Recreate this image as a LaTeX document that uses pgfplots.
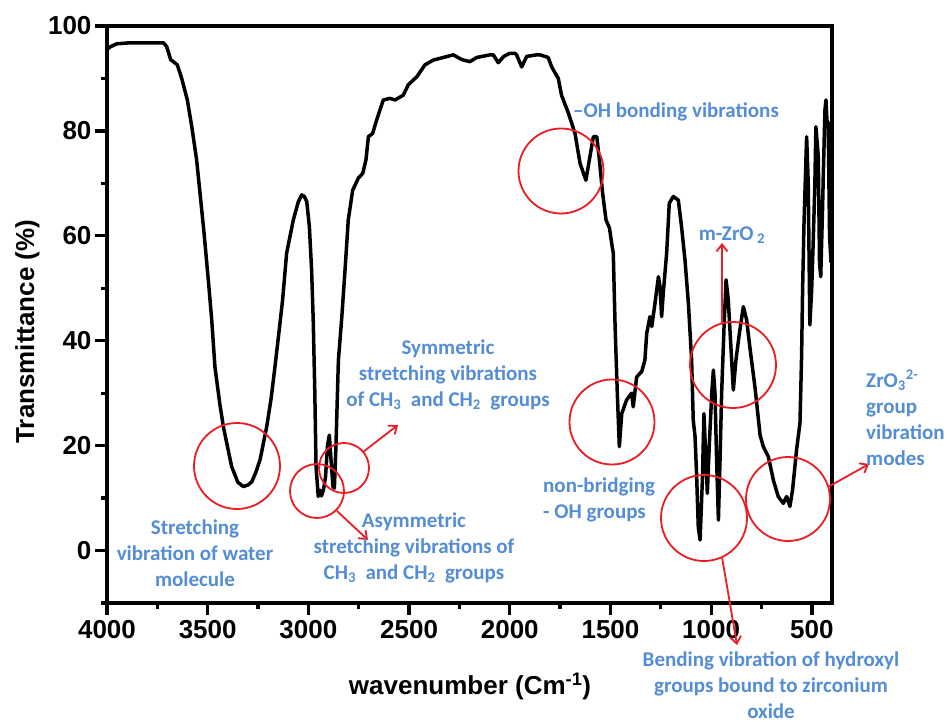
\documentclass[border=0pt]{standalone}
\usepackage{pgfplots}
\pgfplotsset{compat=1.18}
\usepackage{fontspec}
\setmainfont{Liberation Sans}
\newfontfamily\calibri{Carlito}
\usetikzlibrary{arrows.meta}
\definecolor{annblue}{RGB}{84,141,212}
\definecolor{annred}{RGB}{235,28,36}

\begin{document}
\begin{tikzpicture}
\useasboundingbox (0,0) rectangle (947pt,724pt);
\begin{axis}[
  at={(107pt,121pt)}, anchor=south west,
  scale only axis, width=725pt, height=577pt,
  xmin=400, xmax=4000, x dir=reverse,
  ymin=-10, ymax=100,
  xtick={500,1000,...,4000},
  minor xtick={750,1250,...,3750},
  ytick={0,20,...,100},
  minor ytick={-10,10,...,90},
  tick pos=left, tick align=outside,
  major tick length=12pt, minor tick length=6pt,
  every tick/.append style={black, line width=3.3pt},
  axis line style={line width=3.3pt},
  scaled ticks=false,
  /pgf/number format/1000 sep={},
  /pgf/number format/assume math mode=true,
  ticklabel style={font=\fontsize{26}{28}\selectfont\bfseries},
  xticklabel style={yshift=-2pt},
  xlabel={wavenumber (Cm\textsuperscript{-1})},
  ylabel={Transmittance (\%)},
  label style={font=\fontsize{26}{28}\selectfont\bfseries},
  xlabel style={at={(axis description cs:0.5007,-0.1594)}, anchor=base},
  ylabel style={at={(axis description cs:-0.1097,0.4705)}, anchor=center},
]
\addplot[black, line width=3.5pt, line join=round] coordinates {
(4000,95.5) (3985,96.0) (3952,96.6) (3886,96.8) (3720,96.8) (3704,96.1)
(3684,93.6) (3651,92.6) (3629,90.0) (3601,85.9) (3579,80.8) (3555,74.5)
(3538,68.1) (3518,60.5) (3497,51.6) (3480,44.0) (3464,35.0) (3440,28.0)
(3422,23.6) (3400,19.5) (3381,16.0) (3350,13.0) (3323,12.2) (3300,12.5)
(3281,13.1) (3260,15.0) (3240,17.3) (3207,23.6) (3185,29.0) (3166,35.0)
(3145,42.0) (3128,47.8) (3108,56.7) (3075,63.0) (3050,66.5) (3033,67.8)
(3020,67.5) (3008,66.5) (2995,61.7) (2984,53.5) (2976,44.0) (2968,30.0)
(2962,16.0) (2951,10.3) (2942,11.5) (2935,10.4) (2925,11.6) (2915,14.0)
(2905,20.0) (2896,22.0) (2887,17.0) (2878,12.2) (2871,11.9) (2863,20.0)
(2851,36.3) (2835,44.0) (2818,53.5) (2802,63.0) (2780,68.7) (2752,71.0)
(2730,71.9) (2714,74.5) (2702,78.9) (2681,79.5) (2661,82.1) (2628,85.9)
(2595,86.2) (2570,85.9) (2529,86.8) (2504,88.8) (2462,90.3) (2421,92.6)
(2380,93.5) (2330,94.0) (2280,94.5) (2239,93.6) (2198,93.2) (2164,94.0)
(2098,94.5) (2082,94.5) (2057,93.0) (2030,94.2) (2000,94.8) (1974,94.8)
(1966,94.5) (1941,92.2) (1916,94.2) (1867,94.5) (1850,94.5) (1809,94.0)
(1792,92.2) (1759,90.0) (1743,86.8) (1709,83.4) (1676,79.5) (1651,73.8)
(1622,70.6) (1602,75.1) (1585,78.9) (1568,78.9) (1555,74.5) (1539,68.1)
(1522,63.0) (1505,61.5) (1494,58.6) (1486,56.7) (1477,42.7) (1466,30.0)
(1456,19.8) (1444,26.1) (1420,28.7) (1395,30.0) (1387,27.4) (1370,33.1)
(1345,34.1) (1329,36.3) (1320,41.4) (1304,44.6) (1295,42.7) (1279,47.1)
(1262,52.2) (1254,50.3) (1246,44.6) (1238,49.0) (1221,56.7) (1208,66.2)
(1188,67.5) (1163,66.8) (1147,61.7) (1130,55.4) (1113,47.1) (1097,36.3)
(1089,24.9) (1080,21.7) (1072,14.1) (1064,4.5) (1055,2.0) (1043,14.1)
(1036,26.1) (1026,17.3) (1019,10.9) (1009,20.4) (997,30.0) (989,34.4)
(981,30.0) (973,17.3) (964,5.8) (956,17.3) (948,30.0) (936,42.7)
(926,51.6) (915,47.8) (903,39.5) (890,30.6) (877,36.3) (860,41.4)
(840,46.5) (824,44.0) (807,38.5) (782,31.0) (757,22.0) (741,19.8)
(716,17.9) (691,13.4) (667,10.3) (642,9.0) (625,10.3) (609,8.4)
(596,11.5) (576,19.2) (559,24.3) (551,37.0) (546,49.7) (539,62.4)
(526,78.9) (518,70.0) (510,43.0) (501,49.7) (493,59.2) (485,70.0)
(480,80.8) (468,75.1) (462,55.0) (456,52.2) (447,65.0) (443,71.9)
(435,84.0) (430,85.9) (425,82.0) (419,81.5) (412,60.0) (405,55.0) (400,60.0)
};
\end{axis}
\begin{scope}[x=1pt, y=1pt,
  ann/.style={text=annblue, inner sep=0pt,
    font=\calibri\bfseries\fontsize{21}{26}\selectfont},
  ring/.style={annred, line width=1.8pt},
  arr/.style={annred, line width=1.8pt, -{Straight Barb[length=7pt,width=11pt]}}]
  % circles
  \draw[ring] (237,258) circle[radius=43];
  \draw[ring] (317,233) circle[radius=27];
  \draw[ring] (344,256) circle[radius=25];
  \draw[ring] (561,553) circle[radius=42.5];
  \draw[ring] (733,359) circle[radius=43];
  \draw[ring] (612,302) circle[radius=42.5];
  \draw[ring] (704,206) circle[radius=43];
  \draw[ring] (788,225) circle[radius=42];
  % arrows
  \draw[arr] (363,272) -- (398,299);
  \draw[arr] (337,213) -- (368,184);
  \draw[arr] (722,401) -- (722,481);
  \draw[arr] (722,167) -- (737,79);
  \draw[arr] (828,237) -- (869,260);
  % labels
  \node[ann, align=center] at (195,171) {Stretching\\vibration of water\\molecule};
  \node[ann, align=center] at (448,349) {Symmetric\\stretching vibrations\\of CH\textsubscript{3}\ \ and CH\textsubscript{2}\ \ groups};
  \node[ann, align=center] at (414,176) {Asymmetric\\stretching vibrations of\\CH\textsubscript{3}\ \ and CH\textsubscript{2}\ \ groups};
  \node[ann] at (676,612) {–OH bonding vibrations};
  \node[ann] at (732,489) {m-ZrO\,\textsubscript{2}};
  \node[ann, align=left, anchor=west] at (543,224) {non-bridging\\- OH groups};
  \node[ann, align=left, anchor=west] at (866,306) {ZrO\textsubscript{3}\textsuperscript{2-}\\group\\vibration\\modes};
  \node[ann, align=center] at (771,39) {Bending vibration of hydroxyl\\groups bound to zirconium\\oxide};
\end{scope}
\end{tikzpicture}
\end{document}
